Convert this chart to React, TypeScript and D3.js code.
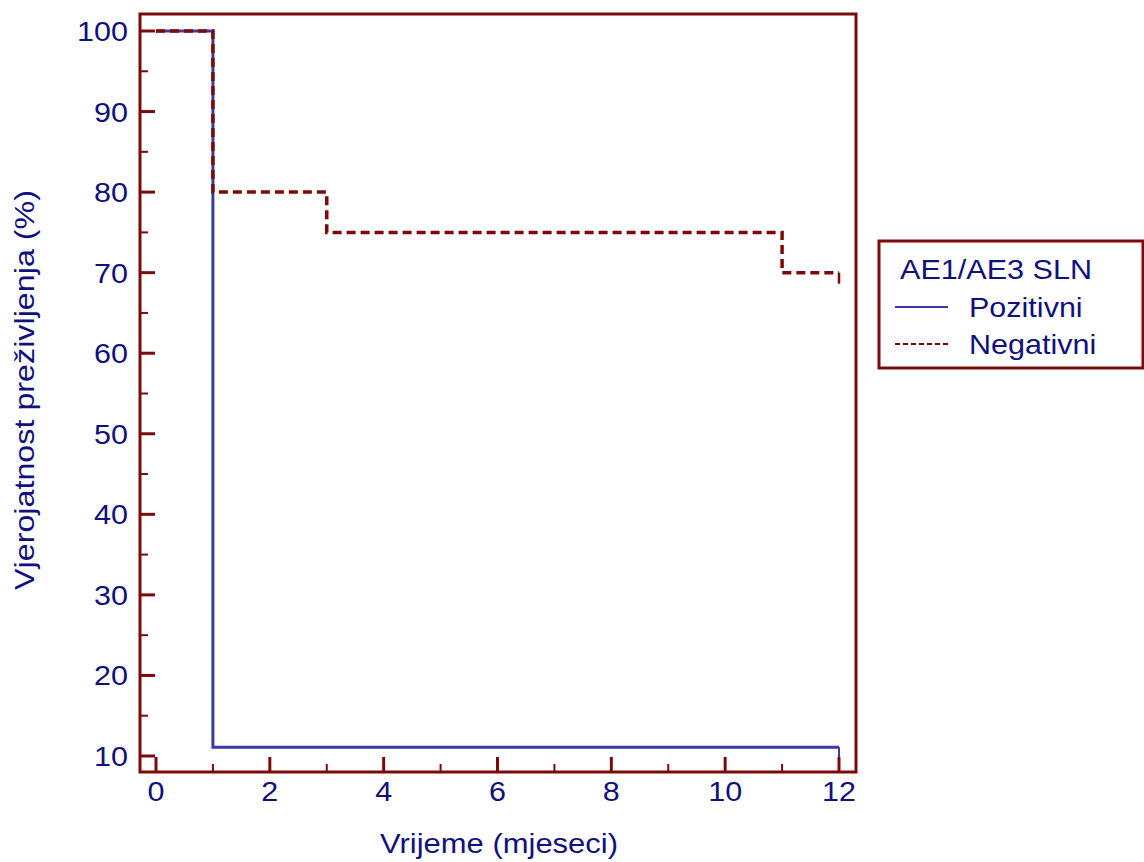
import { useEffect, useRef } from 'react';
import * as d3 from 'd3';

// Kaplan-Meier survival, months vs %
const positiveTimes = [0, 1, 12];
const positiveSurvival = [100, 11.1, 11.1];
const positiveCensored = [12];

const negativeTimes = [0, 1, 3, 11, 12];
const negativeSurvival = [100, 80, 75, 70, 70];
const negativeCensored = [12];

const xMajorTicks = [0, 2, 4, 6, 8, 10, 12];
const xMinorTicks = [1, 3, 5, 7, 9, 11];
const yMajorTicks = [10, 20, 30, 40, 50, 60, 70, 80, 90, 100];
const yMinorTicks = [15, 25, 35, 45, 55, 65, 75, 85, 95];

const legendTitle = 'AE1/AE3 SLN';
const seriesNames = ['Pozitivni', 'Negativni'];

interface Pt {
  t: number;
  s: number;
}

const FRAME = '#7d0a0a';
const RED = '#7d0a0a';
const BLUE = '#3a3aa8';
const TEXT = '#10107f';
const FONT = '"Liberation Sans", Arial, sans-serif';
const WIDEN = 1.09; // the original text is a bit wider than the font

// stretch text horizontally, as in the source picture
function widen(sel: d3.Selection<SVGTextElement, any, any, any>) {
  sel.each(function () {
    const w = this.getComputedTextLength();
    d3.select(this)
      .attr('textLength', w * WIDEN)
      .attr('lengthAdjust', 'spacingAndGlyphs');
  });
}

const App = () => {
  const ref = useRef<SVGSVGElement>(null);

  useEffect(() => {
    const svg = d3.select(ref.current);
    svg.selectAll('*').remove();

    const x = d3.scaleLinear().domain([0, 12]).range([156, 839]);
    const y = d3.scaleLinear().domain([10, 100]).range([756, 31]);
    const frame = { left: 140, top: 14, right: 856, bottom: 772 };

    // frame
    svg.append('rect')
      .attr('x', frame.left)
      .attr('y', frame.top)
      .attr('width', frame.right - frame.left)
      .attr('height', frame.bottom - frame.top)
      .attr('fill', 'none')
      .attr('stroke', FRAME)
      .attr('stroke-width', 3);

    // inward ticks
    const ticks = svg.append('g').attr('stroke', FRAME).attr('stroke-width', 3);
    ticks.selectAll('.xmaj').data(xMajorTicks).enter().append('line')
      .attr('x1', d => x(d)).attr('x2', d => x(d))
      .attr('y1', frame.bottom).attr('y2', frame.bottom - 15);
    ticks.selectAll('.xmin').data(xMinorTicks).enter().append('line')
      .attr('x1', d => x(d)).attr('x2', d => x(d))
      .attr('y1', frame.bottom).attr('y2', frame.bottom - 8)
      .attr('stroke-width', 2);
    ticks.selectAll('.ymaj').data(yMajorTicks).enter().append('line')
      .attr('x1', frame.left).attr('x2', frame.left + 15)
      .attr('y1', d => y(d)).attr('y2', d => y(d));
    ticks.selectAll('.ymin').data(yMinorTicks).enter().append('line')
      .attr('x1', frame.left).attr('x2', frame.left + 8)
      .attr('y1', d => y(d)).attr('y2', d => y(d))
      .attr('stroke-width', 2);

    // tick labels
    const xl = svg.append('g').selectAll('text').data(xMajorTicks).enter().append('text')
      .attr('x', d => x(d))
      .attr('y', 801)
      .attr('text-anchor', 'middle')
      .attr('font-family', FONT)
      .attr('font-size', 28)
      .attr('fill', TEXT)
      .text(d => d);
    widen(xl);
    const yl = svg.append('g').selectAll('text').data(yMajorTicks).enter().append('text')
      .attr('x', 128)
      .attr('y', d => y(d) + 10)
      .attr('text-anchor', 'end')
      .attr('font-family', FONT)
      .attr('font-size', 28)
      .attr('fill', TEXT)
      .text(d => d);
    widen(yl);

    // axis titles
    svg.append('text')
      .attr('x', 499)
      .attr('y', 853)
      .attr('text-anchor', 'middle')
      .attr('font-family', FONT)
      .attr('font-size', 28)
      .attr('textLength', 238)
      .attr('lengthAdjust', 'spacingAndGlyphs')
      .attr('fill', TEXT)
      .text('Vrijeme (mjeseci)');
    svg.append('text')
      .attr('transform', 'translate(34,390) rotate(-90)')
      .attr('text-anchor', 'middle')
      .attr('font-family', FONT)
      .attr('font-size', 28)
      .attr('textLength', 400)
      .attr('lengthAdjust', 'spacingAndGlyphs')
      .attr('fill', TEXT)
      .text('Vjerojatnost preživljenja (%)');

    const line = d3.line<Pt>()
      .x(d => x(d.t))
      .y(d => y(d.s))
      .curve(d3.curveStepAfter);

    const pos: Pt[] = positiveTimes.map((t, i) => ({ t, s: positiveSurvival[i] }));
    const neg: Pt[] = negativeTimes.map((t, i) => ({ t, s: negativeSurvival[i] }));

    svg.append('path')
      .datum(pos)
      .attr('d', line)
      .attr('fill', 'none')
      .attr('stroke', BLUE)
      .attr('stroke-width', 3);
    svg.selectAll('.cpos').data(positiveCensored).enter().append('line')
      .attr('x1', d => x(d)).attr('x2', d => x(d))
      .attr('y1', y(positiveSurvival[positiveSurvival.length - 1]))
      .attr('y2', y(positiveSurvival[positiveSurvival.length - 1]) + 10)
      .attr('stroke', BLUE)
      .attr('stroke-width', 2);

    svg.append('path')
      .datum(neg)
      .attr('d', line)
      .attr('fill', 'none')
      .attr('stroke', RED)
      .attr('stroke-width', 3.5)
      .attr('stroke-dasharray', '9,5');
    svg.selectAll('.cneg').data(negativeCensored).enter().append('line')
      .attr('x1', d => x(d)).attr('x2', d => x(d))
      .attr('y1', y(negativeSurvival[negativeSurvival.length - 1]))
      .attr('y2', y(negativeSurvival[negativeSurvival.length - 1]) + 11)
      .attr('stroke', RED)
      .attr('stroke-width', 2.5);

    // legend
    const lg = svg.append('g');
    lg.append('rect')
      .attr('x', 879).attr('y', 241)
      .attr('width', 264).attr('height', 127)
      .attr('fill', 'white')
      .attr('stroke', FRAME)
      .attr('stroke-width', 3);
    lg.append('text')
      .attr('x', 900).attr('y', 279)
      .attr('font-family', FONT)
      .attr('font-size', 27)
      .attr('textLength', 192)
      .attr('lengthAdjust', 'spacingAndGlyphs')
      .attr('fill', TEXT)
      .text(legendTitle);
    const styles = [
      { color: BLUE, dash: null, width: 2 },
      { color: RED, dash: '5,3', width: 2 },
    ];
    seriesNames.forEach((name, i) => {
      const cy = 307 + i * 37;
      lg.append('line')
        .attr('x1', 895).attr('x2', 948)
        .attr('y1', cy).attr('y2', cy)
        .attr('stroke', styles[i].color)
        .attr('stroke-width', styles[i].width)
        .attr('stroke-dasharray', styles[i].dash);
      const t = lg.append('text')
        .attr('x', 969).attr('y', cy + 10)
        .attr('font-family', FONT)
        .attr('font-size', 28)
        .attr('fill', TEXT)
        .text(name);
      widen(t as any);
    });
  }, []);

  return (
    <svg
      ref={ref}
      width={1144}
      height={862}
      style={{ position: 'absolute', left: 0, top: 0, background: 'white' }}
    />
  );
};

export default App;
